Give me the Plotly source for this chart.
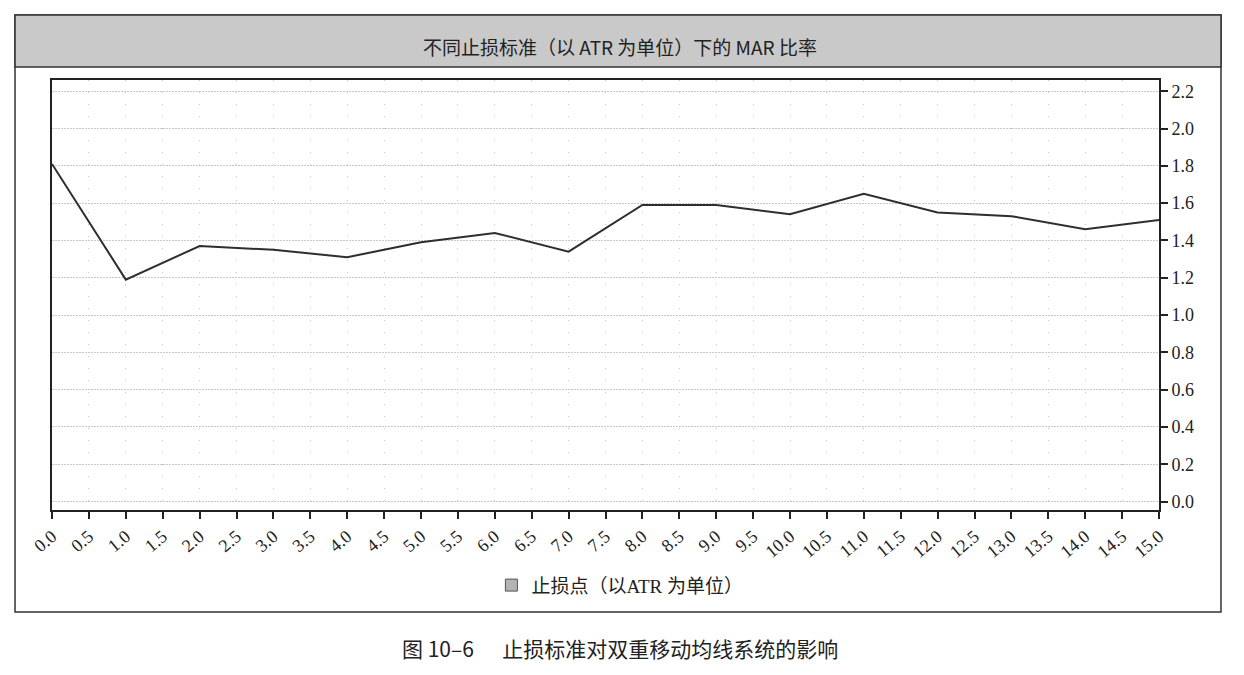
import plotly.graph_objects as go

# 止损点（以ATR为单位）与对应的MAR比率
stop_atr = [0, 1, 2, 3, 4, 5, 6, 7, 8, 9, 10, 11, 12, 13, 14, 15]
mar_ratio = [1.81, 1.19, 1.37, 1.35, 1.31, 1.39, 1.44, 1.34,
             1.59, 1.59, 1.54, 1.65, 1.55, 1.53, 1.46, 1.51]

chart_title = '不同止损标准（以 ATR 为单位）下的 MAR 比率'
legend_name = '止损点（以ATR 为单位）'
caption = '图 10–6&nbsp;&nbsp;&nbsp;&nbsp;&nbsp;&nbsp;止损标准对双重移动均线系统的影响'

serif = 'Liberation Serif, Noto Sans CJK SC, serif'
sans = 'Noto Sans CJK SC, Noto Sans, sans-serif'

fig = go.Figure()

fig.add_trace(go.Scatter(
    x=stop_atr,
    y=mar_ratio,
    mode='lines',
    line=dict(color='#2e2e2e', width=2),
    showlegend=False,
))

# legend entry shown as a grey square, like the original
fig.add_trace(go.Bar(
    x=[None], y=[None],
    name=legend_name,
    marker=dict(color='#b4b4b4', line=dict(color='#555555', width=1)),
))

fig.update_layout(
    width=1244,
    height=675,
    margin=dict(l=44, r=93, t=72, b=173),
    paper_bgcolor='white',
    plot_bgcolor='white',
    font=dict(family=serif, color='#222222'),
    showlegend=True,
    legend=dict(
        orientation='h',
        x=0.513, xanchor='center',
        y=-0.175, yanchor='middle',
        font=dict(family=serif, size=19, color='#222222'),
        itemwidth=30,
    ),
    xaxis=dict(
        range=[0, 15],
        tickmode='linear', tick0=0, dtick=0.5,
        tickformat='.1f',
        tickangle=-40,
        ticks='outside', ticklen=7, tickwidth=2, tickcolor='#222',
        tickfont=dict(family=serif, size=18),
        showline=True, linecolor='#222', linewidth=2, mirror=True,
        showgrid=True, gridcolor='#c8c8c8', gridwidth=1, griddash='1px,11px',
        zeroline=False,
    ),
    yaxis=dict(
        range=[-0.045, 2.26],
        side='right',
        tickmode='linear', tick0=0, dtick=0.2,
        tickformat='.1f',
        ticks='outside', ticklen=7, tickwidth=2, tickcolor='#222',
        tickfont=dict(family=serif, size=18),
        showline=True, linecolor='#222', linewidth=2, mirror=True,
        showgrid=True, gridcolor='#c8c8c8', gridwidth=1, griddash='2px,1px',
        zeroline=False,
    ),
    shapes=[
        # outer frame
        dict(type='rect', xref='paper', yref='paper',
             x0=-0.0334, x1=1.056, y0=-0.237, y1=1.151,
             line=dict(color='#333', width=1.5), fillcolor='rgba(0,0,0,0)', layer='below'),
        # grey title bar
        dict(type='rect', xref='paper', yref='paper',
             x0=-0.0334, x1=1.056, y0=1.030, y1=1.151,
             line=dict(color='#333', width=1.5), fillcolor='#c9c9c9', layer='below'),
    ],
    annotations=[
        dict(text=chart_title, xref='paper', yref='paper',
             x=0.513, y=1.079, xanchor='center', yanchor='middle', showarrow=False,
             font=dict(family=sans, size=19, color='#222')),
        dict(text=caption, xref='paper', yref='paper',
             x=0.513, y=-0.321, xanchor='center', yanchor='middle', showarrow=False,
             font=dict(family=sans, size=21, color='#222')),
    ],
)

fig.write_html('out.html')
